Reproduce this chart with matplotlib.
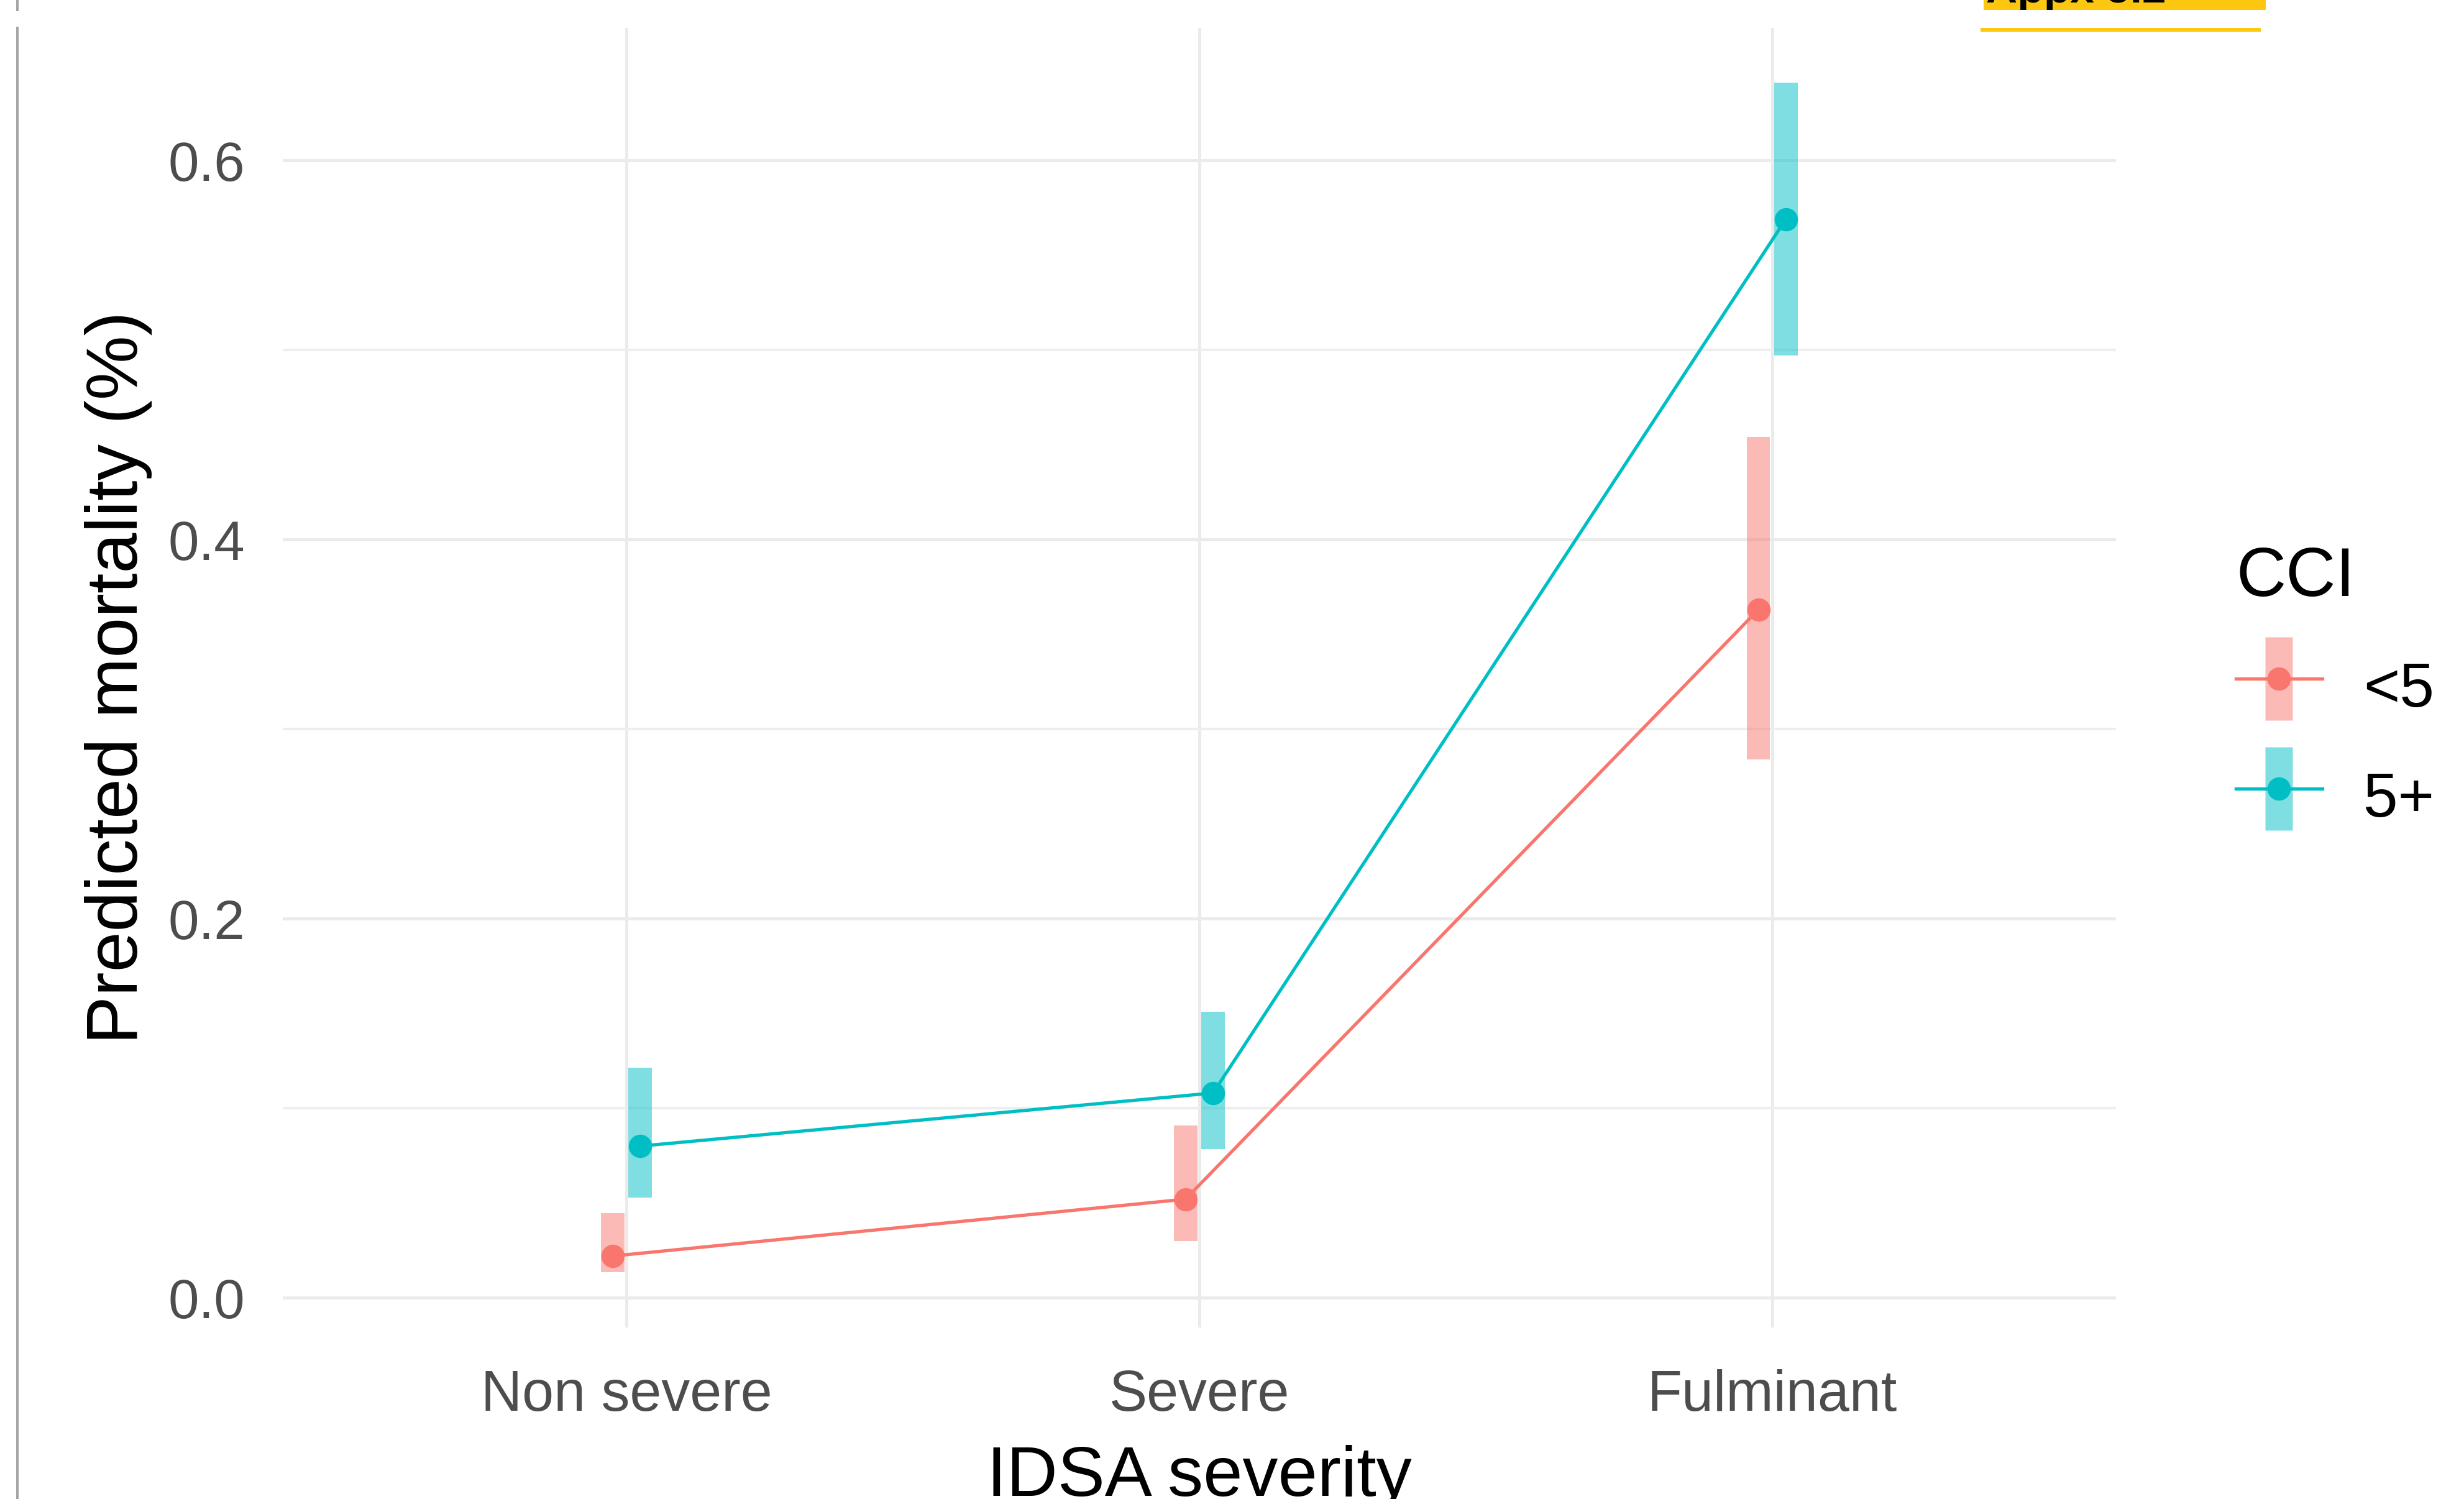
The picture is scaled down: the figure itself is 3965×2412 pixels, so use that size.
import numpy as np
import matplotlib
matplotlib.use("Agg")
import matplotlib.pyplot as plt
from matplotlib.lines import Line2D
from matplotlib.patches import Rectangle

plt.rcParams['font.family'] = ['Liberation Sans', 'DejaVu Sans']

# data
categories = ["Non severe", "Severe", "Fulminant"]
groups = ["<5", "5+"]

low_est = [0.022, 0.052, 0.363]
low_lo = [0.0134, 0.030, 0.284]
low_hi = [0.0446, 0.091, 0.454]

high_est = [0.080, 0.108, 0.569]
high_lo = [0.053, 0.0785, 0.497]
high_hi = [0.1215, 0.151, 0.641]

RED = "#F8766D"
TEAL = "#00BFC4"
W, H = 3966, 2412

fig = plt.figure(figsize=(W / 100, H / 100), dpi=100)
ax = fig.add_axes([0.1147, 0.1144, 0.7438, 0.8669])

x = np.arange(len(categories))
dodge = 0.024
series = [
    (low_est, low_lo, low_hi, RED, -dodge),
    (high_est, high_lo, high_hi, TEAL, dodge),
]

for est, lo, hi, col, off in series:
    lo = np.asarray(lo)
    hi = np.asarray(hi)
    ax.bar(x + off, hi - lo, bottom=lo, width=0.041, color=col, alpha=0.5,
           linewidth=0, zorder=2)
    ax.plot(x + off, est, color=col, lw=3.8, zorder=3)
    ax.plot(x + off, est, 'o', color=col, ms=27, mec='none', zorder=4)

ax.set_xlim(-0.6, 2.6)
ax.set_ylim(-0.0157, 0.6698)
ax.set_xticks(x)
ax.set_xticklabels(categories)
ax.set_yticks([0.0, 0.2, 0.4, 0.6])
ax.set_yticklabels(["0.0", "0.2", "0.4", "0.6"])
ax.set_yticks([0.1, 0.3, 0.5], minor=True)

ax.grid(which='major', axis='both', color='#EBEBEB', lw=3.6, zorder=0)
ax.grid(which='minor', axis='y', color='#EEEEEE', lw=3.0, zorder=0)
ax.set_axisbelow(True)
for s in ax.spines.values():
    s.set_visible(False)
ax.tick_params(axis='both', which='both', length=0, labelsize=64,
               labelcolor='#4D4D4D')
ax.tick_params(axis='x', labelsize=66, pad=48)
ax.tick_params(axis='y', pad=44)

ax.set_xlabel("IDSA severity", fontsize=82, labelpad=26)
ax.set_ylabel("Predicted mortality (%)", fontsize=84, labelpad=18)

# legend: translucent range bar + line with point
rect = [(-0.165, -0.5), (0.165, -0.5), (0.165, 0.5), (-0.165, 0.5), (-0.165, -0.5)]
handles = []
for col in (RED, TEAL):
    bar_h = Line2D([0], [0], marker=rect, ls='none', ms=96, color=col,
                   alpha=0.5, mec='none')
    pt_h = Line2D([0], [0], color=col, lw=3.8, marker='o', ms=27, mec='none')
    handles.append((bar_h, pt_h))
leg = ax.legend(handles, groups, title="CCI", loc='upper left',
                bbox_to_anchor=(3548 / W, 1 - 828 / H),
                bbox_transform=fig.transFigure, frameon=False,
                fontsize=72, title_fontsize=80, borderpad=0,
                handlelength=1.39, handleheight=1.33, labelspacing=0.66,
                handletextpad=0.66, alignment='left')

# page leftovers around the plot
fig.add_artist(Line2D([28.5 / W] * 2, [0, 1 - 45 / H], transform=fig.transFigure,
                      color='#A6A6A6', lw=2.9))
fig.add_artist(Line2D([28.5 / W] * 2, [1 - 16 / H, 1], transform=fig.transFigure,
                      color='#A6A6A6', lw=2.9))
tag = Rectangle((3192 / W, 1 - 16 / H), (3646 - 3192) / W, 20 / H,
                transform=fig.transFigure, color='#FDC70F', lw=0)
fig.add_artist(tag)
fig.add_artist(Rectangle((3187 / W, 1 - 51 / H), (3638 - 3187) / W, 6 / H,
                         transform=fig.transFigure, color='#FDC70F', lw=0))
t = fig.text(3196 / W, 1 - 4 / H, "Appx 5.2", fontsize=50, weight='bold',
             va='baseline', ha='left', color='black')
t.set_clip_path(tag)

fig.savefig("out.png", dpi=100, facecolor='white')
